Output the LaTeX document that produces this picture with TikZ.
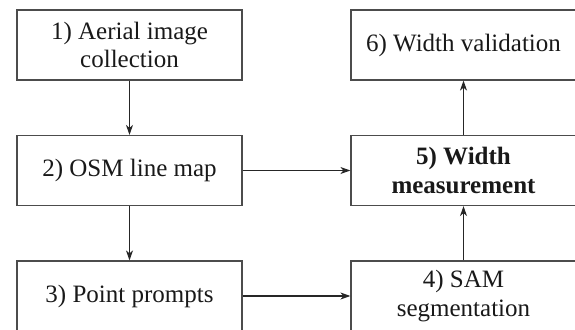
\documentclass[tikz,border=0pt]{standalone}
\usepackage{fontspec}
\setmainfont{Liberation Serif}
\usetikzlibrary{arrows.meta}
\begin{document}
\begin{tikzpicture}[x=1pt,y=-1pt,
  stepbox/.style={draw=black!70, line width=1.2pt, minimum width=225pt, minimum height=70pt,
    inner sep=0pt, align=center, font=\fontsize{25}{28.5}\selectfont, text=black!90},
  flow/.style={draw=black!85, line width=1.3pt, -{Stealth[length=10pt,width=7pt,inset=3pt]}}]
\clip (0,0) rectangle (575,329);
\fill[white] (0,0) rectangle (575,329);
\node[stepbox] (n1) at (129.5,45) {1) Aerial image\\collection};
\node[stepbox] (n2) at (129.5,170.5) {2) OSM line map};
\node[stepbox] (n3) at (129.5,296) {3) Point prompts};
\node[stepbox] (n4) at (463.5,296) {4) SAM\\segmentation};
\node[stepbox] (n5) at (463.5,170.5) {\textbf{5) Width}\\\textbf{measurement}};
\node[stepbox] (n6) at (463.5,45) {6) Width validation};
\draw[flow] (n1) -- (n2);
\draw[flow] (n2) -- (n3);
\draw[flow] (n2) -- (n5);
\draw[flow] (n3) -- (n4);
\draw[flow] (n4) -- (n5);
\draw[flow] (n5) -- (n6);
\end{tikzpicture}
\end{document}
